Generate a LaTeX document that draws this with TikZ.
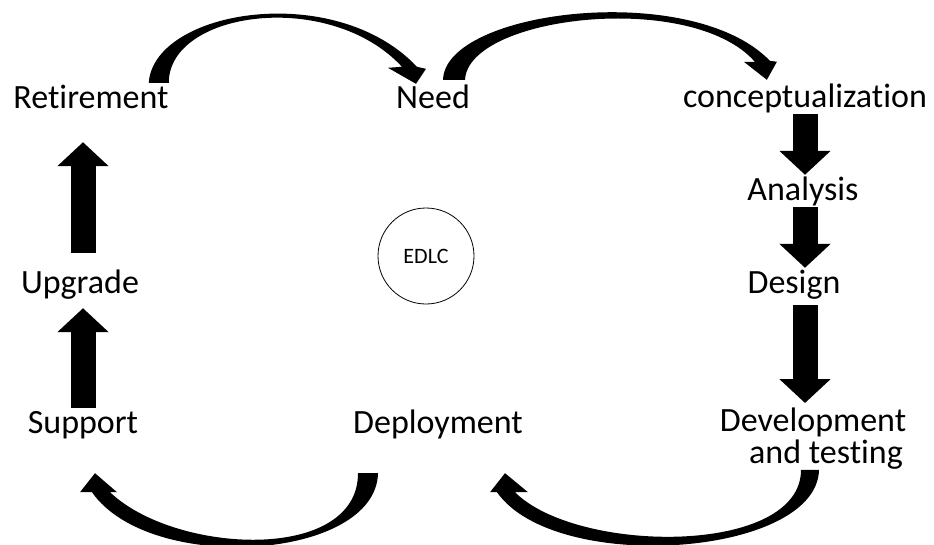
\documentclass[tikz,border=0pt]{standalone}
\usepackage{fontspec}
\setmainfont{Carlito}[Ligatures=NoCommon]
\usepackage{tikz}
\usetikzlibrary{arrows.meta, calc, positioning}
\tikzset{
 lbl/.style={font=\fontsize{34}{32}\selectfont, inner sep=0pt, anchor=base, text height=25pt, text depth=7pt},
 blk/.style={line width=25pt, -{Triangle[width=50pt, length=24pt]}},
 curv/.style={fill=black}
}

\begin{document}
\begin{tikzpicture}[x=1pt, y=-1pt]
 \useasboundingbox (0,0) rectangle (934,544);
 \fill[white] (0,0) rectangle (934,544);
 \node[lbl] (ret) at (91,108) {Retirement};
 \node[lbl] (need) at (433,108) {Need};
 \node[lbl] (con) at (805,107) {conceptualization};
 \node[lbl] (ana) at (803,200) {Analysis};
 \node[lbl] (des) at (794,293) {Design};
 \node[font=\fontsize{34}{32}\selectfont, inner sep=0pt, align=center, anchor=north] (dev) at (813,408) {Development\\\hspace*{26pt}and testing};
 \node[lbl] (dep) at (438,433) {Deployment};
 \node[lbl] (sup) at (83,433) {Support};
 \node[lbl] (upg) at (80,293) {Upgrade};
 \node[draw, circle, line width=0.8pt, minimum size=96pt, inner sep=0pt, font=\fontsize{22}{24}\selectfont] (edlc) at (426,256) {EDLC};
 \draw[blk] (con.south) -- (con.south |- ana.north);
 \draw[blk] (con.south |- ana.south) -- (con.south |- des.north);
 \draw[blk, shorten <=5pt, shorten >=5pt] (con.south |- des.south) -- (con.south |- dev.north);
 \draw[blk, shorten >=8pt] (sup.north) -- (sup.north |- upg.south);
 \draw[blk, shorten <=15pt, shorten >=27pt] (sup.north |- upg.north) -- (sup.north |- ret.south);
 \fill[curv] ([shift={(-20,0)}]ret.north east) .. controls +(5,-73) and +(-82,-87) .. ([shift={(21,-16)}]need.north west)
  -- ++(9,2) -- ++(-10,15) -- ++(-28,-16) -- ++(14,-1)
  .. controls +(-72,-78) and +(0,-72) .. (ret.north east) -- cycle;
 \fill[curv] ([shift={(-27,-3)}]need.north east) .. controls +(2,-70) and +(-78,-81) .. ([shift={(87,-21)}]con.north west)
  -- ++(7,1) -- ++(-10,18) -- ++(-23,-18) -- ++(11,0)
  .. controls +(-63,-72) and +(3,-64) .. ([shift={(-5,-3)}]need.north east) -- cycle;
 \fill[curv] ([shift={(6,0)}]dev.south) .. controls +(-2,87) and +(58,83) .. ([shift={(59,52)}]dep.south)
  -- ++(-7,0) -- ++(15,-19) -- ++(23,19) -- ++(-13,0)
  .. controls +(62,62) and +(0,86) .. ([shift={(-12,0)}]dev.south) -- cycle;
 \fill[curv] ([shift={(-60,33)}]dep.south) .. controls +(-2,87) and +(58,83) .. ([shift={(9,52)}]sup.south)
  -- ++(-12,0) -- ++(15,-19) -- ++(22,19) -- ++(-7,0)
  .. controls +(65,62) and +(0,90) .. ([shift={(-80,33)}]dep.south) -- cycle;
\end{tikzpicture}
\end{document}
